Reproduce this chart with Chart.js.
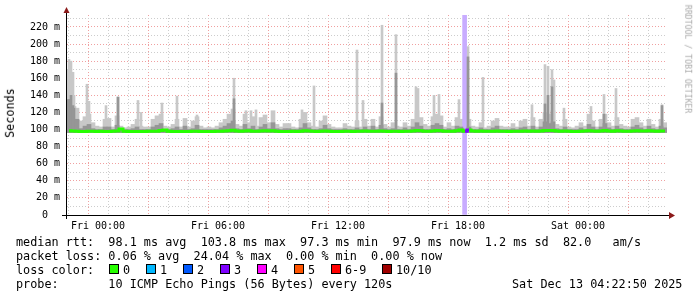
<!DOCTYPE html>
<html>
<head>
<meta charset="utf-8">
<script src="https://cdn.jsdelivr.net/npm/chart.js@4/dist/chart.umd.min.js"></script>
<style>
  html, body { margin: 0; padding: 0; background: #fff; }
  #wrap { position: relative; width: 697px; height: 297px; overflow: hidden; background: #fff; }
  canvas { position: absolute; left: 0; top: 0; }
  .t { position: absolute; font-family: "DejaVu Sans Mono", monospace; font-size: 11.8px; line-height: 14px; white-space: pre; color: #000; }
  .box { position: absolute; width: 8px; height: 8px; border: 1px solid #000; }
  #ylab { transform: rotate(-90deg); transform-origin: 50% 50%; }
  #wm { font-size: 8.2px; line-height: 10px; color: #aaaaaa; transform: rotate(90deg); transform-origin: 50% 50%; }
</style>
</head>
<body>
<div id="wrap">
  <canvas id="c" width="697" height="297"></canvas>
</div>
<script>
// ---------------- data ----------------
// time axis: hours relative to Fri 00:00
const xMin = -1.55, xMax = 28.45;
const sampleStart = -1.45, sampleStep = 0.2;

// outer (light) smoke top per sample, ms
const lightTop = [
  150,140,125,110,115,118,108,104,103,112,
  113,103,116,104,102,103,106,112,104,103,
  103,112,116,118,104,103,106,112,103,113,
  103,110,115,104,102,103,102,104,108,112,
  118,124,106,104,118,108,115,104,114,117,
  108,122,106,103,107,107,103,102,112,120,
  108,104,103,110,116,106,103,102,102,107,
  104,103,110,103,112,104,112,103,115,106,
  103,108,104,103,108,104,112,122,114,106,
  104,115,118,116,103,108,104,114,112,104,
  112,104,103,108,102,104,110,113,104,103,
  103,107,103,110,112,104,114,103,112,120,
  118,122,106,104,112,103,102,104,108,104,
  118,110,103,112,118,108,104,114,106,104,
  103,112,114,108,104,112,106,103,112,108
];
// inner (darker) smoke top per sample, ms
const midTop = [
  135,125,112,101,104,106,101,100,100,103,
  103,100,105,101,100,100,101,103,100,100,
  100,103,105,107,100,100,101,103,100,104,
  100,101,105,100,100,100,100,100,102,104,
  107,110,101,100,106,101,104,100,103,106,
  101,108,101,100,101,101,100,100,102,107,
  102,100,100,101,105,101,100,100,100,101,
  100,100,102,100,103,100,104,100,105,101,
  100,101,100,100,102,100,103,108,104,100,
  100,105,107,105,100,101,100,104,103,100,
  103,100,100,102,100,100,102,104,100,100,
  100,101,100,102,103,100,104,100,103,109,
  107,109,101,100,103,100,100,100,102,100,
  106,103,100,103,107,102,100,104,101,100,
  100,103,105,102,100,104,101,100,104,102
];
// median rtt per sample, ms
const median = [
  98.5,98.2,98.0,97.8,97.8,98.0,97.9,97.8,98.0,97.8,
  97.8,97.9,98.4,100.5,98.0,97.7,97.7,97.7,97.8,97.8,
  97.9,98.0,98.1,99.0,99.5,98.0,97.8,97.7,97.7,97.8,
  97.8,97.9,98.0,97.8,97.7,97.7,97.8,97.9,98.0,98.3,
  98.6,99.2,98.4,98.0,98.2,98.5,98.0,97.9,98.2,98.6,
  98.3,98.5,98.0,97.8,97.8,97.8,97.9,97.8,98.0,98.6,
  98.2,98.0,97.8,98.0,98.3,98.0,97.8,97.7,97.7,97.9,
  98.0,97.8,98.0,97.9,98.2,98.0,98.1,97.9,98.4,98.1,
  97.8,98.0,97.9,97.8,98.0,98.0,98.2,98.8,98.5,98.0,
  97.9,98.3,98.8,98.6,98.0,97.9,98.0,98.5,99.5,98.0,
  99.5,98.4,98.0,98.2,97.9,98.0,98.1,98.3,98.0,97.9,
  97.8,97.9,97.9,98.0,98.2,98.0,98.4,97.9,98.3,98.9,
  98.8,99.0,98.2,98.0,98.3,97.9,97.7,97.8,98.0,98.2,
  98.6,98.3,98.0,98.3,98.8,98.4,98.1,98.5,98.2,98.0,
  97.9,98.3,98.6,98.4,98.2,98.5,98.2,97.9,98.4,98.2
];
// isolated tall ping spikes (outer smoke)
const spikeTimes = [-1.52,-1.45,-1.35,-1.25,-1.15,-1.05,-0.55,-0.45,0.40,1.00,
  2.00,2.15,3.20,3.95,4.95,6.80,7.40,7.65,7.90,10.20,
  10.80,12.95,13.25,14.20,14.90,15.90,16.00,16.80,17.05,18.05,
  18.50,19.25,21.70,22.35,22.50,22.70,22.80,23.30,24.65,25.30,
  25.90,28.20];
const spikeMax = [170,182,180,167,127,120,153,133,128,138,
  134,120,131,139,117,160,122,122,123,123,
  151,193,134,222,211,150,148,140,141,135,
  197,161,129,176,174,170,158,125,127,141,
  148,129];
// darker cores of some spikes
const coreTimes = [-1.45,-1.35,-1.25,1.00,6.80,14.20,14.90,18.50,22.35,22.50,22.70,25.30,28.20];
const coreMax = [135,140,128,138,136,131,166,185,130,140,150,118,128];
// packet loss event
const lossTimes = [18.33];
const lossLevel = [3];      // loss colour class
const lossColors = ['#26ff00','#00b8ff','#0059ff','#7e00ff','#ff00ff','#ff5500','#ff0000','#a00000'];

// tick labels
const yLabelValues = [0,20,40,60,80,100,120,140,160,180,200,220];
const yTickLabels = ['0  ','20 m','40 m','60 m','80 m','100 m','120 m','140 m','160 m','180 m','200 m','220 m'];
const xLabelHours = [0,6,12,18,24];
const xTickLabels = ['Fri 00:00','Fri 06:00','Fri 12:00','Fri 18:00','Sat 00:00'];

// ---------------- chart ----------------
const sampleTimes = median.map((_, i) => +(sampleStart + i * sampleStep).toFixed(2));
const smokeBase = 96.5;
const lightGrey = 'rgb(200,200,200)';
const midGrey = 'rgb(150,150,150)';
const bandColor = 'rgb(200,172,255)';

function lossAt(t) {
  for (let k = 0; k < lossTimes.length; k++) if (Math.abs(lossTimes[k] - t) < 0.12) return lossLevel[k];
  return 0;
}

const axisPlugin = {
  id: 'axes',
  afterDraw(chart) {
    const ctx = chart.ctx, a = chart.chartArea;
    ctx.save();
    ctx.strokeStyle = '#000'; ctx.lineWidth = 1;
    ctx.beginPath();
    ctx.moveTo(a.left - 5, a.bottom + 0.5); ctx.lineTo(a.right + 3, a.bottom + 0.5);
    ctx.moveTo(a.left - 0.5, a.bottom + 4); ctx.lineTo(a.left - 0.5, a.top - 3);
    ctx.stroke();
    ctx.fillStyle = '#8b1a1a';
    ctx.beginPath();
    ctx.moveTo(a.right + 2, a.bottom - 3); ctx.lineTo(a.right + 8, a.bottom + 0.5); ctx.lineTo(a.right + 2, a.bottom + 4);
    ctx.closePath(); ctx.fill();
    ctx.beginPath();
    ctx.moveTo(a.left - 3.5, a.top - 2); ctx.lineTo(a.left - 0.5, a.top - 8); ctx.lineTo(a.left + 2.5, a.top - 2);
    ctx.closePath(); ctx.fill();
    ctx.restore();
  }
};

new Chart(document.getElementById('c'), {
  type: 'bar',
  data: {
    datasets: [
      {
        type: 'line', order: 0,
        data: sampleTimes.map((t, i) => ({ x: t, y: median[i] })),
        borderColor: lossColors[0], borderWidth: 3, pointRadius: 0, stepped: 'middle',
        segment: { borderColor: c => lossColors[lossAt(c.p0.parsed.x)] }
      },
      {
        order: 1, grouped: false, barThickness: 2, backgroundColor: midGrey,
        data: coreTimes.map((t, i) => ({ x: t, y: [smokeBase, coreMax[i]] }))
      },
      {
        order: 2, grouped: false, barThickness: 4, backgroundColor: midGrey,
        data: sampleTimes.map((t, i) => ({ x: t, y: [smokeBase, midTop[i]] }))
      },
      {
        order: 3, grouped: false, barThickness: 4, backgroundColor: bandColor,
        data: lossTimes.map(t => ({ x: t, y: [0, 234] }))
      },
      {
        order: 4, grouped: false, barThickness: 2, backgroundColor: lightGrey,
        data: spikeTimes.map((t, i) => ({ x: t, y: [smokeBase, spikeMax[i]] }))
      },
      {
        order: 5, grouped: false, barThickness: 4, backgroundColor: lightGrey,
        data: sampleTimes.map((t, i) => ({ x: t, y: [smokeBase, lightTop[i]] }))
      }
    ]
  },
  options: {
    responsive: false, animation: false, devicePixelRatio: 1,
    layout: { autoPadding: false, padding: { left: 0, right: 30, top: 15, bottom: 62 } },
    plugins: { legend: { display: false }, tooltip: { enabled: false } },
    scales: {
      x: {
        type: 'linear', min: xMin, max: xMax, offset: false,
        afterFit: s => { s.height = 20; },
        afterBuildTicks: s => {
          const t = [];
          for (let h = Math.ceil(xMin); h <= Math.floor(xMax); h++) t.push({ value: h });
          s.ticks = t;
        },
        ticks: {
          autoSkip: false, maxRotation: 0, padding: 5, color: '#000',
          font: { family: 'DejaVu Sans Mono', size: 10 },
          callback: v => { const k = xLabelHours.indexOf(v); return k >= 0 ? xTickLabels[k] : ''; }
        },
        grid: {
          drawTicks: false, lineWidth: 1,
          color: c => (c.tick && c.tick.value % 3 === 0) ? 'rgb(240,160,160)' : 'rgb(205,205,205)'
        },
        border: { display: false, dash: [1, 2] }
      },
      y: {
        type: 'linear', min: 0, max: 234,
        afterFit: s => { s.width = 67; },
        afterBuildTicks: s => {
          const t = [];
          for (let v = 0; v <= 230; v += 10) t.push({ value: v });
          s.ticks = t;
        },
        ticks: {
          autoSkip: false, padding: 7, color: '#000',
          font: { family: 'DejaVu Sans Mono', size: 10 },
          callback: v => { const k = yLabelValues.indexOf(v); return k >= 0 ? yTickLabels[k] : ''; }
        },
        grid: {
          drawTicks: false, lineWidth: 1,
          color: c => (c.tick && c.tick.value % 20 === 0) ? 'rgb(240,160,160)' : 'rgb(205,205,205)'
        },
        border: { display: false, dash: [1, 2] }
      }
    }
  },
  plugins: [axisPlugin]
});

// ---------------- text ----------------
const wrap = document.getElementById('wrap');
function addText(txt, left, top, id) {
  const d = document.createElement('div');
  d.className = 't'; d.textContent = txt;
  d.style.left = left + 'px'; d.style.top = top + 'px';
  if (id) d.id = id;
  wrap.appendChild(d);
  return d;
}
addText('median rtt:  98.1 ms avg  103.8 ms max  97.3 ms min  97.9 ms now  1.2 ms sd  82.0   am/s', 16, 234.5);
addText('packet loss: 0.06 % avg  24.04 % max  0.00 % min  0.00 % now', 16, 248.5);
addText('loss color:', 16, 262.5);
const legendNames = ['0','1','2','3','4','5','6-9','10/10'];
const legendBoxX = [109,146,183,220,257,294,331,382];
legendNames.forEach((n, i) => {
  const b = document.createElement('div');
  b.className = 'box'; b.style.left = legendBoxX[i] + 'px'; b.style.top = '263.5px';
  b.style.background = lossColors[i];
  wrap.appendChild(b);
  addText(n, legendBoxX[i] + 14, 262.5);
});
addText('probe:       10 ICMP Echo Pings (56 Bytes) every 120s', 16, 276.5);
addText('Sat Dec 13 04:22:50 2025', 512, 276.5);
const yl = addText('Seconds', 0, 0, 'ylab');
yl.style.left = (10 - yl.offsetWidth / 2) + 'px';
yl.style.top = (113 - yl.offsetHeight / 2) + 'px';
const wm = addText('RRDTOOL / TOBI OETIKER', 0, 0, 'wm');
wm.style.left = (688 - wm.offsetWidth / 2) + 'px';
wm.style.top = (59 - wm.offsetHeight / 2) + 'px';
</script>
</body>
</html>
